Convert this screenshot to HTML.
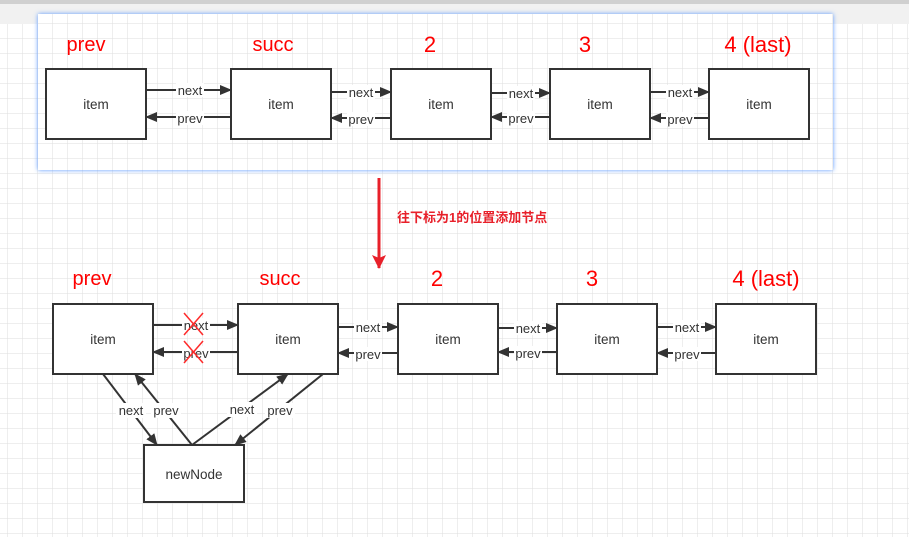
<!DOCTYPE html>
<html><head><meta charset="utf-8"><style>
html,body{margin:0;padding:0;width:909px;height:537px;overflow:hidden;background:#fff}
svg{display:block}
text{font-family:"Liberation Sans","Noto Sans CJK SC",sans-serif}
</style></head><body>
<svg width="909" height="537" viewBox="0 0 909 537" xmlns="http://www.w3.org/2000/svg">
<defs>
<pattern id="g" x="8" y="9" width="15" height="15" patternUnits="userSpaceOnUse">
<path d="M15 0V15M0 15H15" fill="none" stroke="#dedede" stroke-width="1"/>
</pattern>
<marker id="a" markerWidth="12" markerHeight="10" refX="11" refY="5" orient="auto" markerUnits="userSpaceOnUse">
<path d="M0,0 L12,5 L0,10 z" fill="#333"/>
</marker>
<marker id="r" markerWidth="14" markerHeight="14" refX="13" refY="7" orient="auto" markerUnits="userSpaceOnUse">
<path d="M0,0 L14,7 L0,14 L3,7 z" fill="#e8202a"/>
</marker>
<filter id="sh" x="-5%" y="-10%" width="110%" height="120%"><feDropShadow dx="0" dy="0" stdDeviation="2.5" flood-color="#5a98ff" flood-opacity="1"/></filter>
</defs>
<rect width="909" height="537" fill="#fff"/>
<rect y="24" width="909" height="513" fill="url(#g)"/>
<rect width="909" height="24" fill="#f1f1f1"/>
<rect width="909" height="4" fill="#d0d0d0"/>
<rect x="38" y="14" width="795" height="156" fill="#fff" filter="url(#sh)"/>
<rect x="38" y="14" width="795" height="156" fill="url(#g)"/>

<g fill="#ff0000" font-size="20" text-anchor="middle">
<text x="86" y="51">prev</text><text x="273" y="51">succ</text><text x="430" y="52" font-size="22">2</text><text x="585" y="52" font-size="22">3</text><text x="758" y="52" font-size="22">4 (last)</text>
<text x="92" y="285">prev</text><text x="280" y="285">succ</text><text x="437" y="286" font-size="22">2</text><text x="592" y="286" font-size="22">3</text><text x="766" y="286" font-size="22">4 (last)</text>
</g>

<g fill="#fff" stroke="#333" stroke-width="2">
<rect x="46" y="69" width="100" height="70"/><rect x="231" y="69" width="100" height="70"/><rect x="391" y="69" width="100" height="70"/><rect x="550" y="69" width="100" height="70"/><rect x="709" y="69" width="100" height="70"/>
<rect x="53" y="304" width="100" height="70"/><rect x="238" y="304" width="100" height="70"/><rect x="398" y="304" width="100" height="70"/><rect x="557" y="304" width="100" height="70"/><rect x="716" y="304" width="100" height="70"/>
<rect x="144" y="445" width="100" height="57"/>
</g>
<g fill="#333" font-size="13.5" text-anchor="middle">
<text x="96" y="109">item</text><text x="281" y="109">item</text><text x="441" y="109">item</text><text x="600" y="109">item</text><text x="759" y="109">item</text>
<text x="103" y="344">item</text><text x="288" y="344">item</text><text x="448" y="344">item</text><text x="607" y="344">item</text><text x="766" y="344">item</text>
<text x="194" y="479">newNode</text>
</g>

<g stroke="#333" stroke-width="2" fill="none">
<line x1="146" y1="90" x2="231" y2="90" marker-end="url(#a)"/><line x1="231" y1="117" x2="146" y2="117" marker-end="url(#a)"/>
<line x1="331" y1="92" x2="391" y2="92" marker-end="url(#a)"/><line x1="391" y1="118" x2="331" y2="118" marker-end="url(#a)"/>
<line x1="491" y1="93" x2="550" y2="93" marker-end="url(#a)"/><line x1="550" y1="117" x2="491" y2="117" marker-end="url(#a)"/>
<line x1="650" y1="92" x2="709" y2="92" marker-end="url(#a)"/><line x1="709" y1="118" x2="650" y2="118" marker-end="url(#a)"/>
<line x1="153" y1="325" x2="238" y2="325" marker-end="url(#a)"/><line x1="238" y1="352" x2="153" y2="352" marker-end="url(#a)"/>
<line x1="338" y1="327" x2="398" y2="327" marker-end="url(#a)"/><line x1="398" y1="353" x2="338" y2="353" marker-end="url(#a)"/>
<line x1="498" y1="328" x2="557" y2="328" marker-end="url(#a)"/><line x1="557" y1="352" x2="498" y2="352" marker-end="url(#a)"/>
<line x1="657" y1="327" x2="716" y2="327" marker-end="url(#a)"/><line x1="716" y1="353" x2="657" y2="353" marker-end="url(#a)"/>
<line x1="103" y1="374" x2="157" y2="445" marker-end="url(#a)"/>
<line x1="192" y1="445" x2="135" y2="374" marker-end="url(#a)"/>
<line x1="192" y1="445" x2="288" y2="374" marker-end="url(#a)"/>
<line x1="323" y1="374" x2="235" y2="445" marker-end="url(#a)"/>
</g>

<g font-size="13" fill="#333" text-anchor="middle">
<g fill="#fff"><rect x="176" y="83" width="28" height="14"/><rect x="176" y="111" width="28" height="14"/><rect x="347" y="85" width="28" height="14"/><rect x="347" y="112" width="28" height="14"/><rect x="507" y="86" width="28" height="14"/><rect x="507" y="111" width="28" height="14"/><rect x="666" y="85" width="28" height="14"/><rect x="666" y="112" width="28" height="14"/>
<rect x="182" y="318" width="28" height="14"/><rect x="182" y="346" width="28" height="14"/><rect x="354" y="320" width="28" height="14"/><rect x="354" y="347" width="28" height="14"/><rect x="514" y="321" width="28" height="14"/><rect x="514" y="346" width="28" height="14"/><rect x="673" y="320" width="28" height="14"/><rect x="673" y="347" width="28" height="14"/>
<rect x="116" y="403" width="30" height="15"/><rect x="151" y="403" width="30" height="15"/><rect x="227" y="402" width="30" height="15"/><rect x="265" y="403" width="30" height="15"/></g>
<text x="190" y="95">next</text><text x="190" y="123">prev</text><text x="361" y="97">next</text><text x="361" y="124">prev</text><text x="521" y="98">next</text><text x="521" y="123">prev</text><text x="680" y="97">next</text><text x="680" y="124">prev</text>
<text x="196" y="330">next</text><text x="196" y="358">prev</text><text x="368" y="332">next</text><text x="368" y="359">prev</text><text x="528" y="333">next</text><text x="528" y="358">prev</text><text x="687" y="332">next</text><text x="687" y="359">prev</text>
<text x="131" y="415">next</text><text x="166" y="415">prev</text><text x="242" y="414">next</text><text x="280" y="415">prev</text>
</g>

<g stroke="#ff2a2a" stroke-width="1.5">
<line x1="184" y1="313" x2="203" y2="335"/><line x1="203" y1="313" x2="184" y2="335"/>
<line x1="184" y1="341" x2="203" y2="363"/><line x1="203" y1="341" x2="184" y2="363"/>
</g>

<line x1="379" y1="178" x2="379" y2="268" stroke="#e8202a" stroke-width="3" marker-end="url(#r)"/>
<text x="397" y="222" font-size="13" font-weight="bold" fill="#e8202a">往下标为1的位置添加节点</text>
</svg>
</body></html>
